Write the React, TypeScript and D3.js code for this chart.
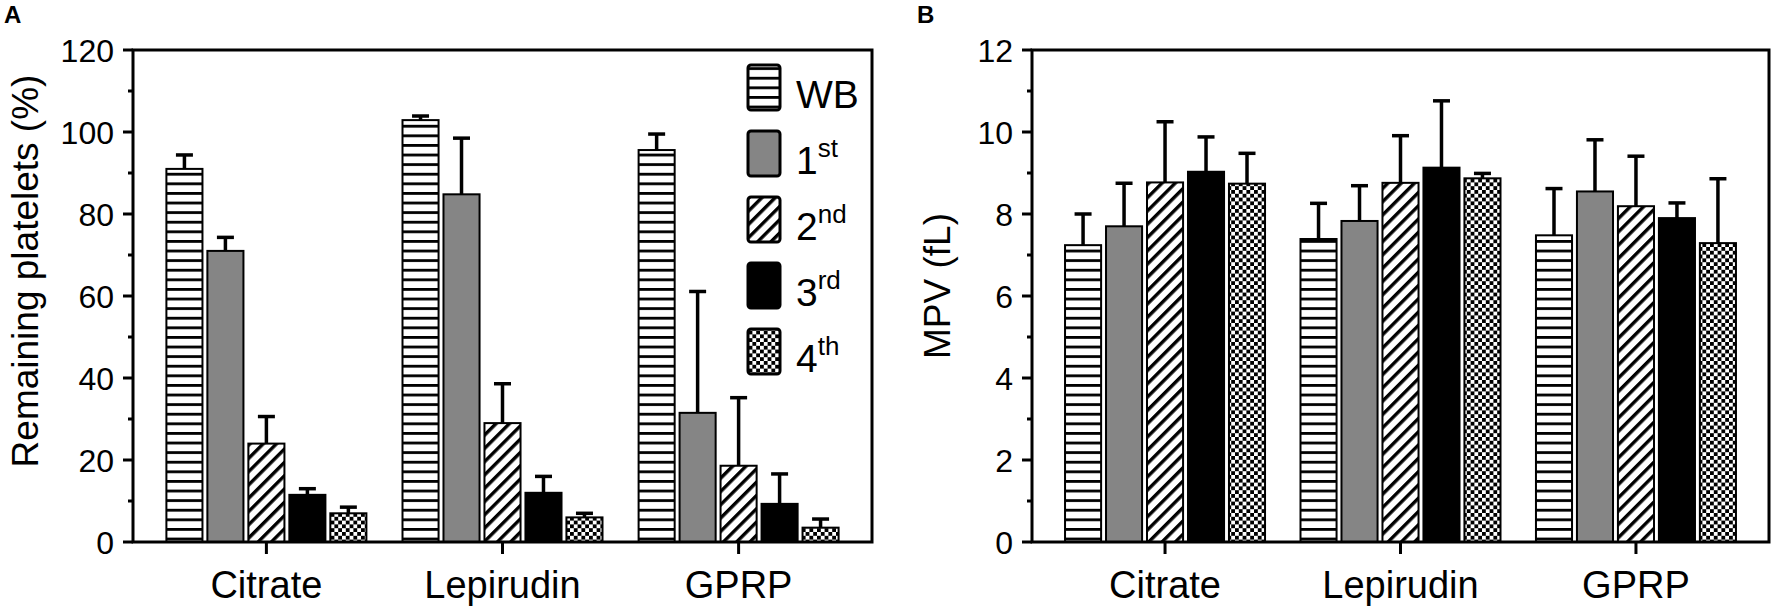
import React from "react";
import { scaleLinear, scaleBand, range } from "d3";

const groups = ["Citrate", "Lepirudin", "GPRP"];
const seriesNames = ["WB", "1", "2", "3", "4"];
const seriesSup = ["", "st", "nd", "rd", "th"];

// Panel A: remaining platelets (%), mean and SD (upper bar only)
const plateletCitrate = [91, 71, 24, 11.5, 7];
const plateletCitrateSd = [3.4, 3.3, 6.6, 1.5, 1.5];
const plateletLepirudin = [102.9, 84.8, 29, 12, 6];
const plateletLepirudinSd = [1, 13.7, 9.6, 4, 1];
const plateletGprp = [95.6, 31.5, 18.6, 9.3, 3.5];
const plateletGprpSd = [3.9, 29.6, 16.6, 7.3, 2.1];

// Panel B: MPV (fL)
const mpvCitrate = [7.24, 7.7, 8.77, 9.03, 8.74];
const mpvCitrateSd = [0.76, 1.05, 1.48, 0.85, 0.74];
const mpvLepirudin = [7.39, 7.83, 8.76, 9.13, 8.87];
const mpvLepirudinSd = [0.87, 0.86, 1.15, 1.63, 0.12];
const mpvGprp = [7.48, 8.55, 8.19, 7.9, 7.29];
const mpvGprpSd = [1.14, 1.26, 1.22, 0.37, 1.57];

const W = 1772,
  H = 610;
const FONT = "'Liberation Sans', Arial, Helvetica, sans-serif";
const fills = ["url(#hstripe)", "#858585", "url(#diag)", "#000", "url(#checker)"];

function Patterns() {
  return (
    <defs>
      <pattern id="hstripe" patternUnits="userSpaceOnUse" width={10} height={9.6}>
        <rect width={10} height={9.6} fill="#fff" />
        <rect y={0} width={10} height={2.8} fill="#000" />
      </pattern>
      <pattern id="diag" patternUnits="userSpaceOnUse" width={10} height={9.4} patternTransform="rotate(-45)">
        <rect width={10} height={9.4} fill="#fff" />
        <rect y={0} width={10} height={3.4} fill="#000" />
      </pattern>
      <pattern id="checker" patternUnits="userSpaceOnUse" width={7.6} height={7.6}>
        <rect width={7.6} height={7.6} fill="#fff" />
        <rect x={0} y={0} width={3.8} height={3.8} fill="#000" />
        <rect x={3.8} y={3.8} width={3.8} height={3.8} fill="#000" />
      </pattern>
    </defs>
  );
}

interface PanelProps {
  left: number;
  right: number;
  means: number[][];
  sds: number[][];
  yMax: number;
  yStep: number;
  yLabel: string;
  yLabelX: number;
  yLabelY: number;
  letter: string;
  letterX: number;
  legend?: boolean;
}

function Panel({ left, right, means, sds, yMax, yStep, yLabel, yLabelX, yLabelY, letter, letterX, legend }: PanelProps) {
  const top = 50,
    bottom = 542;
  const y = scaleLinear().domain([0, yMax]).range([bottom, top]);
  const x = scaleLinear().domain([-0.565, 2.565]).range([left, right]);
  const inner = scaleBand<number>().domain(range(5)).range([-100, 100]).paddingInner(0.12);
  const bw = inner.bandwidth();
  const major = range(0, yMax + yStep / 2, yStep);
  const minor = range(yStep / 2, yMax, yStep);

  return (
    <g fontFamily={FONT}>
      <text x={letterX} y={23} fontSize={24} fontWeight="bold">
        {letter}
      </text>

      {groups.map((g, gi) => (
        <g key={g}>
          {means[gi].map((v, si) => {
            const bx = x(gi) + (inner(si) as number);
            const cx = bx + bw / 2;
            const yt = y(v);
            const ye = y(v + sds[gi][si]);
            return (
              <g key={si}>
                <line x1={cx} x2={cx} y1={yt} y2={ye} stroke="#000" strokeWidth={3.5} />
                <line x1={cx - 8.5} x2={cx + 8.5} y1={ye} y2={ye} stroke="#000" strokeWidth={3.5} />
                <rect x={bx} y={yt} width={bw} height={bottom - yt} fill={fills[si]} stroke="#000" strokeWidth={2} />
              </g>
            );
          })}
          <line x1={x(gi)} x2={x(gi)} y1={bottom} y2={bottom + 12} stroke="#000" strokeWidth={3} />
          <text x={x(gi)} y={598} fontSize={38} textAnchor="middle">
            {g}
          </text>
        </g>
      ))}

      {/* frame */}
      <rect x={left} y={top} width={right - left} height={bottom - top} fill="none" stroke="#000" strokeWidth={3} />

      {/* y axis ticks */}
      {major.map((t) => (
        <g key={"M" + t}>
          <line x1={left - 10} x2={left} y1={y(t)} y2={y(t)} stroke="#000" strokeWidth={3} />
          <text x={left - 19} y={y(t)} dy="0.36em" fontSize={32} textAnchor="end">
            {t}
          </text>
        </g>
      ))}
      {minor.map((t) => (
        <line key={"m" + t} x1={left - 5} x2={left} y1={y(t)} y2={y(t)} stroke="#000" strokeWidth={3} />
      ))}

      <text transform={`translate(${yLabelX},${yLabelY}) rotate(-90)`} fontSize={37} textAnchor="middle">
        {yLabel}
      </text>

      {legend &&
        seriesNames.map((s, si) => {
          const by = 65 + si * 66;
          return (
            <g key={s}>
              <rect x={748} y={by} width={32} height={45} rx={3} fill={fills[si]} stroke="#000" strokeWidth={3} />
              <text x={796} y={by + 43} fontSize={39}>
                {s}
                {seriesSup[si] && (
                  <tspan fontSize={26} dy={-17}>
                    {seriesSup[si]}
                  </tspan>
                )}
              </text>
            </g>
          );
        })}
    </g>
  );
}

export default function App() {
  return (
    <svg
      width={W}
      height={H}
      viewBox={`0 0 ${W} ${H}`}
      style={{ position: "absolute", left: 0, top: 0, background: "#fff" }}
    >
      <Patterns />
      <rect width={W} height={H} fill="#fff" />
      <Panel
        left={133}
        right={872}
        means={[plateletCitrate, plateletLepirudin, plateletGprp]}
        sds={[plateletCitrateSd, plateletLepirudinSd, plateletGprpSd]}
        yMax={120}
        yStep={20}
        yLabel="Remaining platelets (%)"
        yLabelX={38}
        yLabelY={271}
        letter="A"
        letterX={4}
        legend
      />
      <Panel
        left={1032}
        right={1769}
        means={[mpvCitrate, mpvLepirudin, mpvGprp]}
        sds={[mpvCitrateSd, mpvLepirudinSd, mpvGprpSd]}
        yMax={12}
        yStep={2}
        yLabel="MPV (fL)"
        yLabelX={950}
        yLabelY={286}
        letter="B"
        letterX={917}
      />
    </svg>
  );
}
